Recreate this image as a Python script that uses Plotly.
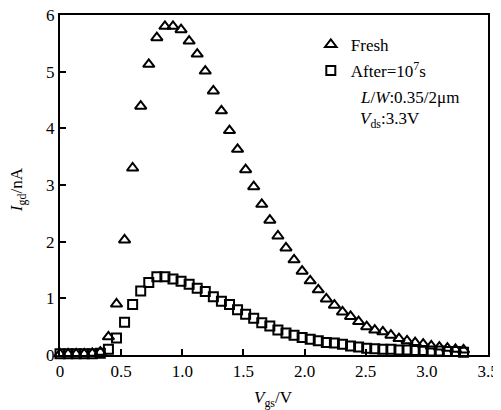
import plotly.graph_objects as go

# Gate voltage grid (V)
vgs = [round(i * 0.066, 3) for i in range(51)]

fresh = [0.02, 0.02, 0.02, 0.02, 0.03, 0.05, 0.32, 0.90, 2.03, 3.30,
         4.39, 5.13, 5.60, 5.80, 5.80, 5.74, 5.54, 5.31, 5.01, 4.66,
         4.31, 3.96, 3.63, 3.27, 2.97, 2.66, 2.38, 2.10, 1.89, 1.68,
         1.48, 1.31, 1.15, 0.99, 0.88, 0.76, 0.68, 0.59, 0.50, 0.44,
         0.41, 0.35, 0.29, 0.25, 0.22, 0.19, 0.16, 0.14, 0.12, 0.10, 0.09]

after = [0.02, 0.02, 0.02, 0.02, 0.02, 0.03, 0.10, 0.30, 0.58, 0.89,
         1.13, 1.28, 1.38, 1.38, 1.34, 1.30, 1.25, 1.18, 1.12, 1.03,
         0.95, 0.89, 0.80, 0.72, 0.65, 0.57, 0.51, 0.44, 0.39, 0.35,
         0.31, 0.28, 0.25, 0.22, 0.21, 0.19, 0.16, 0.14, 0.12, 0.11,
         0.10, 0.10, 0.09, 0.09, 0.08, 0.08, 0.07, 0.07, 0.06, 0.06, 0.05]

series_names = ["Fresh", "After=10<sup>7</sup>s"]
x_ticks = [0, 0.5, 1.0, 1.5, 2.0, 2.5, 3.0, 3.5]
x_tick_labels = ["0", "0.5", "1.0", "1.5", "2.0", "2.5", "3.0", "3.5"]
y_ticks = [0, 1, 2, 3, 4, 5, 6]
x_title = "<i>V</i><sub>gs</sub>/V"
y_title = "<i>I</i><sub>gd</sub>/nA"
note_lines = ["<i>L</i>/<i>W</i>:0.35/2μm", "<i>V</i><sub>ds</sub>:3.3V"]

FONT = "Liberation Serif"

fig = go.Figure()
fig.add_trace(go.Scatter(
    x=vgs, y=fresh, mode="markers", name=series_names[0], legendgroup="a",
    marker=dict(symbol="triangle-up-open", size=10, color="black",
                line=dict(width=2, color="black")),
    cliponaxis=False,
))
fig.add_trace(go.Scatter(
    x=vgs, y=after, mode="markers", name=series_names[1], legendgroup="b",
    marker=dict(symbol="square-open", size=9, color="black",
                line=dict(width=2, color="black")),
    cliponaxis=False,
))

# page body has an 8px default margin; figure offset accordingly
fig.update_layout(
    width=493, height=402,
    margin=dict(l=52, r=13, t=7, b=55, autoexpand=False),
    paper_bgcolor="white", plot_bgcolor="white",
    font=dict(family=FONT, size=17, color="black"),
    showlegend=True,
    legend=dict(x=0.586, y=0.965, xanchor="left", yanchor="top",
                bgcolor="rgba(0,0,0,0)", borderwidth=0,
                itemwidth=30, tracegroupgap=1,
                font=dict(family=FONT, size=17, color="black")),
    xaxis=dict(range=[0, 3.5], tickvals=x_ticks, ticktext=x_tick_labels,
               ticks="inside", ticklen=6, tickwidth=1.5, tickcolor="black",
               showline=True, linecolor="black", linewidth=2, mirror=True,
               showgrid=False, zeroline=False, automargin=False,
               ticklabeloverflow="allow",
               tickfont=dict(family=FONT, size=17)),
    yaxis=dict(range=[0, 6], tickvals=y_ticks,
               ticks="inside", ticklen=6, tickwidth=1.5, tickcolor="black",
               showline=True, linecolor="black", linewidth=2, mirror=True,
               showgrid=False, zeroline=False, automargin=False,
               ticklabeloverflow="allow",
               tickfont=dict(family=FONT, size=17)),
)

# axis titles
fig.add_annotation(xref="paper", yref="paper", x=0.498, y=-0.128,
                   xanchor="center", yanchor="middle", showarrow=False,
                   text=x_title, font=dict(family=FONT, size=17, color="black"))
fig.add_annotation(xref="paper", yref="paper", x=-0.098, y=0.485,
                   xanchor="center", yanchor="middle", showarrow=False,
                   textangle=-90,
                   text=y_title, font=dict(family=FONT, size=17, color="black"))

# condition notes
fig.add_annotation(xref="paper", yref="paper", x=0.697, y=0.756,
                   xanchor="left", yanchor="middle", showarrow=False,
                   text=note_lines[0],
                   font=dict(family=FONT, size=17, color="black"))
fig.add_annotation(xref="paper", yref="paper", x=0.697, y=0.692,
                   xanchor="left", yanchor="middle", showarrow=False,
                   text=note_lines[1],
                   font=dict(family=FONT, size=17, color="black"))

fig.write_html("out.html")
